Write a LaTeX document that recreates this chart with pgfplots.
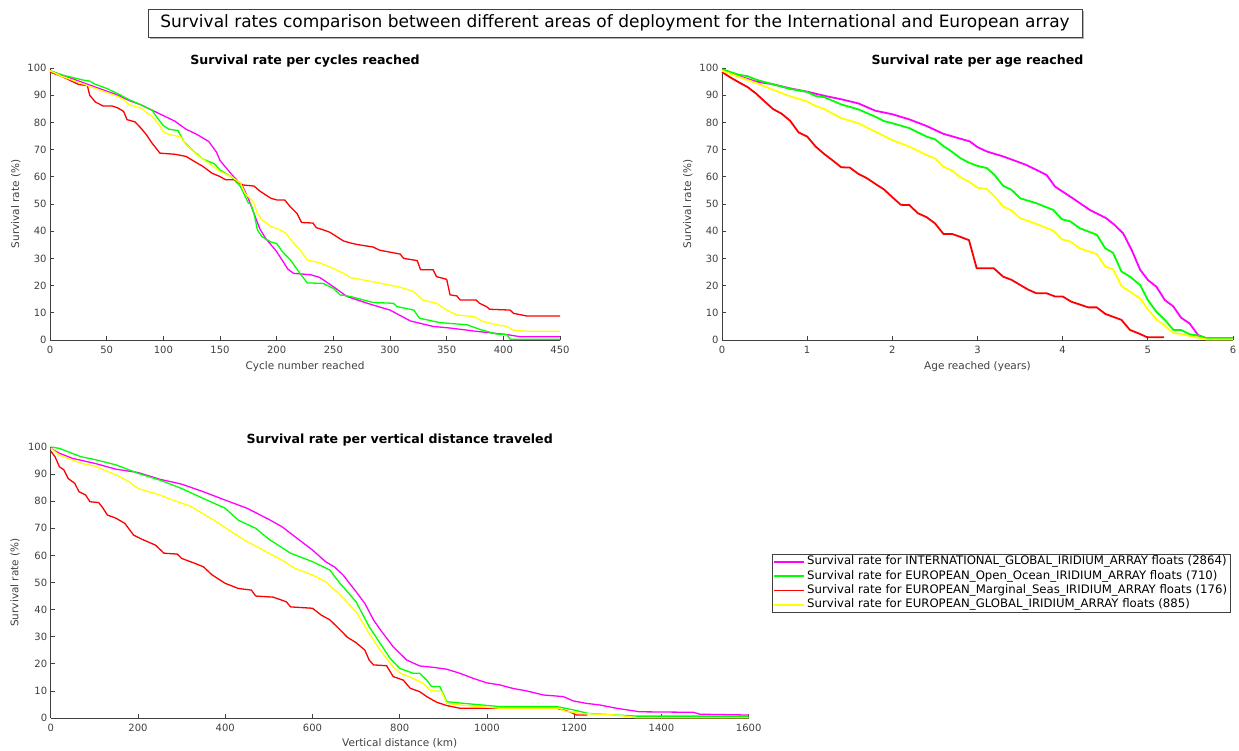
\documentclass[border=0pt]{standalone}
\usepackage{pgfplots}
\pgfplotsset{compat=1.18}
\usepackage{fontspec}
\setmainfont{DejaVu Sans}
\definecolor{cmag}{RGB}{255,0,255}
\definecolor{cgrn}{RGB}{0,255,0}
\definecolor{cred}{RGB}{255,0,0}
\definecolor{cyel}{RGB}{255,255,0}
\definecolor{axc}{RGB}{64,64,64}
\pgfplotsset{
  mstyle/.style={
    scale only axis,
    axis x line*=bottom, axis y line*=left,
    x axis line style={-,draw=axc,line width=0.9bp},
    y axis line style={-,draw=axc,line width=0.9bp},
    tick align=inside, major tick length=4bp,
    every tick/.style={draw=axc,line width=0.8bp},
    tick label style={font=\fontsize{10bp}{12bp}\selectfont, text=axc},
    /pgf/number format/assume math mode=true,
    /pgf/number format/1000 sep={},
    xticklabel style={yshift=-3bp},
    label style={font=\fontsize{10.5bp}{12bp}\selectfont, text=axc},
    title style={font=\fontsize{12.6bp}{14bp}\selectfont\bfseries, yshift=-9bp},
    ymin=0, ymax=100, ytick={0,10,...,100},
    clip=false,
    scaled ticks=false,
  }
}
\begin{document}
\begin{tikzpicture}
\path[use as bounding box] (0bp,0bp) rectangle (1239bp,-751bp);
% main title box
\fill[gray!60] (150bp,-11bp) rectangle (1084bp,-39bp);
\draw[fill=white,draw=axc,line width=0.6bp] (148bp,-9bp) rectangle (1082bp,-37bp);
\node[font=\fontsize{17bp}{20bp}\selectfont] at (615bp,-23bp) {Survival rates comparison between different areas of deployment for the International and European array};

% ---------- plot 1
\begin{axis}[mstyle, at={(50bp,-340bp)}, anchor=south west, width=510bp, height=272bp,
  xmin=0, xmax=450, xtick={0,50,...,450},
  title={Survival rate per cycles reached},
  xlabel={Cycle number reached}, ylabel={Survival rate (\%)},
  xlabel style={at={(axis description cs:0.5,-0.096)}, anchor=center},
  ylabel style={at={(axis description cs:-0.067,0.5)}, anchor=center},
  every axis plot/.append style={line width=1.3bp}]
\addplot[cmag] coordinates {(0,99)(10,97.5)(20,96)(30,94.5)(40,93)(50,91.5)(60,90)(70,88)(80,86.5)(90,84.5)(100,82.5)(110,80.5)(120,77.5)(130,75.5)(140,73)(147,69)(150,66)(160,61)(170,56.5)(175,52)(180,46.5)(185,41)(190,37.5)(200,32.5)(210,26)(215,24.5)(230,24)(238,23)(250,19.6)(262,16)(280,13.5)(300,11)(318,7)(338,5)(353,4.4)(376,3.2)(403,2)(415,1.2)(450,1.2)};
\addplot[cgrn] coordinates {(0,99)(10,97.5)(20,96.5)(30,95.5)(35,95.2)(40,94)(50,92.5)(60,90.5)(70,88.3)(80,86.5)(90,84.5)(95,81.5)(100,78.8)(105,77.5)(113,77)(118,73)(125,70)(135,66.5)(145,64.8)(150,62.5)(160,60)(168,56.5)(172,53)(175,50.3)(177,50.2)(180,46.5)(183,40.5)(187,38)(195,36)(200,35.5)(205,32.5)(212,29.5)(220,24.8)(227,21)(241,20.8)(250,19)(256,16.6)(265,16)(285,13.8)(303,13.5)(306,12.3)(321,11)(326,8)(344,6.4)(368,5.6)(380,3.8)(394,2.2)(403,2)(406,0.3)(450,0.3)};
\addplot[cred] coordinates {(0,98.5)(10,97)(20,95)(25,94)(33,93.5)(35,90)(40,87.5)(47,86)(55,86)(60,85.3)(65,84)(68,81)(75,80.2)(80,78)(85,75.5)(90,72.4)(97,68.7)(110,68.3)(120,67.5)(130,65)(135,63.8)(143,61.3)(150,60.1)(155,58.9)(163,58.9)(170,57)(180,56.6)(185,54.8)(190,53.4)(195,52.1)(200,51.5)(207,51.5)(212,49)(218,46.5)(222,43.2)(232,43)(235,41.3)(241,40.5)(247,39.6)(259,36.4)(265,35.7)(271,35.1)(285,34.2)(291,33)(309,31.6)(312,30)(324,29.2)(327,25.8)(338,25.8)(341,23.3)(350,22.3)(353,16.6)(359,16.2)(362,14.7)(376,14.7)(379,13.5)(385,12.3)(388,11.3)(406,11)(409,9.8)(421,8.8)(450,8.8)};
\addplot[cyel] coordinates {(0,99)(10,97)(20,95.5)(30,94)(40,92.5)(50,91)(60,89.5)(65,88.3)(70,86.5)(80,85.3)(90,82.2)(95,79.8)(100,76.7)(105,75.5)(115,74.8)(120,71.8)(130,68)(140,65)(150,62)(160,60)(168,57.7)(172,54)(177,51.8)(180,50.3)(183,46.6)(187,44.2)(195,41.7)(202,40.7)(208,39.3)(215,35.6)(221,33)(227,29.4)(238,28.4)(250,26.3)(259,24.5)(265,23)(280,21.8)(300,20.2)(309,19.4)(321,17.8)(329,14.7)(341,13.5)(350,11)(359,9.2)(374,8.6)(382,6.8)(394,5.6)(403,5)(409,3.6)(421,3.2)(450,3.2)};
\end{axis}

% ---------- plot 2
\begin{axis}[mstyle, at={(722bp,-340bp)}, anchor=south west, width=511bp, height=272bp,
  xmin=0, xmax=6, xtick={0,1,...,6},
  title={Survival rate per age reached},
  xlabel={Age reached (years)}, ylabel={Survival rate (\%)},
  xlabel style={at={(axis description cs:0.5,-0.096)}, anchor=center},
  ylabel style={at={(axis description cs:-0.067,0.5)}, anchor=center},
  every axis plot/.append style={line width=1.8bp}]
\addplot[cmag] coordinates {(0,99.5)(0.2,97)(0.4,95)(0.6,94)(0.8,92.5)(1.0,91.3)(1.2,89.8)(1.4,88.5)(1.6,87)(1.8,84.3)(2.0,83)(2.2,81.1)(2.4,78.7)(2.6,75.8)(2.8,74)(2.91,73)(3.0,70.9)(3.11,69.3)(3.3,67.5)(3.57,64.4)(3.81,60.7)(3.91,56.4)(4.09,52.7)(4.32,47.8)(4.51,44.8)(4.61,42.3)(4.71,39.2)(4.81,33.1)(4.91,25.8)(5.0,22.1)(5.1,19.6)(5.2,14.7)(5.3,12.3)(5.39,8.2)(5.49,6.1)(5.59,1.8)(5.69,0.6)(5.8,0.5)};
\addplot[cgrn] coordinates {(0,99.5)(0.2,97.5)(0.3,97)(0.4,95.7)(0.6,94)(0.8,92.3)(1.0,91.2)(1.1,89.7)(1.2,89.3)(1.4,86.6)(1.6,84.8)(1.8,82.1)(1.9,80.5)(2.0,79.7)(2.2,77.9)(2.4,74.8)(2.5,73.8)(2.6,71.3)(2.7,69.2)(2.8,66.8)(2.9,65.2)(3.0,64)(3.11,63.2)(3.2,60.7)(3.3,56.7)(3.4,55.2)(3.5,52.1)(3.69,50.3)(3.89,47.8)(3.99,44.4)(4.09,43.6)(4.2,41.1)(4.3,39.9)(4.4,38.7)(4.5,33.7)(4.59,32.1)(4.69,25.2)(4.79,23.3)(4.91,20.2)(5.0,14.7)(5.1,10.4)(5.2,7.4)(5.3,3.7)(5.39,3.7)(5.49,2.1)(5.59,1.6)(5.69,0.7)(6,0.7)};
\addplot[cred] coordinates {(0,98.5)(0.1,96.5)(0.2,94.7)(0.3,93)(0.4,90.6)(0.5,87.7)(0.6,84.9)(0.7,83.2)(0.8,80.6)(0.9,76.3)(1.0,74.8)(1.1,71.1)(1.2,68.4)(1.3,66)(1.4,63.5)(1.5,63.4)(1.6,61.1)(1.7,59.5)(1.8,57.4)(1.9,55.4)(2.0,52.5)(2.1,49.7)(2.2,49.6)(2.3,46.6)(2.4,45.2)(2.5,42.9)(2.6,39)(2.7,39)(2.8,37.9)(2.9,36.7)(2.99,26.4)(3.19,26.4)(3.3,23.3)(3.4,22.1)(3.59,18.6)(3.69,17.2)(3.81,17.2)(3.91,16)(4.0,16)(4.1,14.1)(4.3,12)(4.4,12)(4.5,9.6)(4.69,7.4)(4.79,3.7)(4.91,2.2)(4.99,1)(5.19,1)};
\addplot[cyel] coordinates {(0,99)(0.2,96.7)(0.4,94.5)(0.6,92)(0.8,89.6)(1.0,87.7)(1.1,86)(1.2,84.9)(1.4,81.6)(1.6,79.7)(1.8,76.6)(2.0,73.5)(2.2,71.1)(2.4,68)(2.5,66.8)(2.6,63.7)(2.7,62.3)(2.8,59.8)(2.9,58.2)(3.0,56)(3.11,55.5)(3.2,52.8)(3.3,49.1)(3.4,47.6)(3.5,44.8)(3.69,42.7)(3.89,40.2)(3.99,37)(4.09,36.2)(4.2,33.7)(4.4,31.6)(4.5,27)(4.59,26)(4.69,19.9)(4.79,17.8)(4.91,15.3)(5.0,11.3)(5.1,7.6)(5.2,5.2)(5.3,2.5)(5.39,2.2)(5.49,1.5)(5.69,0.2)(6,0.2)};
\end{axis}

% ---------- plot 3
\begin{axis}[mstyle, at={(50.7bp,-718bp)}, anchor=south west, width=698bp, height=271bp,
  xmin=0, xmax=1600, xtick={0,200,...,1600},
  title={Survival rate per vertical distance traveled},
  xlabel={Vertical distance (km)}, ylabel={Survival rate (\%)},
  xlabel style={at={(axis description cs:0.5,-0.093)}, anchor=center},
  ylabel style={at={(axis description cs:-0.051,0.5)}, anchor=center},
  every axis plot/.append style={line width=1.3bp},
  legend style={at={(rel axis cs:1.033,0.605)}, anchor=north west,
    font=\fontsize{11.7bp}{13bp}\selectfont,
    inner xsep=1bp, inner ysep=1bp, row sep=1.0bp,
    nodes={inner ysep=1bp, inner xsep=2.5bp, text height=8.7bp, text depth=2.6bp}},
  every axis legend/.append style={draw=axc},
  legend cell align=left,
  legend image code/.code={\draw[#1,draw=.,line width=1.8bp] (0bp,0bp) -- (30bp,0bp);}]
\addplot[cmag] coordinates {(0,99.5)(20,97.7)(50,95.8)(100,94)(150,91.8)(200,90.6)(250,88.1)(300,86.3)(350,83.5)(400,80.4)(450,77.4)(500,73.3)(530,70.6)(560,66.9)(600,62)(630,57.7)(650,55.8)(670,52.8)(700,46.6)(720,42.3)(740,36.2)(755,32.7)(785,26.3)(816,21.4)(846,19.2)(877,18.7)(908,18)(938,16.5)(969,14.6)(999,13)(1030,12.2)(1060,10.9)(1091,10)(1129,8.5)(1175,7.9)(1198,6.3)(1228,5.4)(1259,4.8)(1297,3.6)(1350,2.3)(1473,2.1)(1488,1.4)(1600,1.1)};
\addlegendentry{Survival rate for INTERNATIONAL\_GLOBAL\_IRIDIUM\_ARRAY floats (2864)}
\addplot[cgrn] coordinates {(0,100)(20,99.5)(50,97.6)(70,96.4)(100,95.4)(150,93.4)(200,90.3)(250,87.8)(300,84.7)(350,81)(400,77.4)(430,73)(470,70)(500,66)(550,60.8)(600,57.7)(640,54.6)(660,50.3)(700,42.9)(730,33.7)(755,27.6)(778,22)(800,18.3)(831,16.5)(846,16.5)(862,14)(873,11.6)(892,11.6)(908,6)(961,5.2)(1030,4.2)(1160,4.2)(1198,3)(1232,1.7)(1343,0.7)(1600,0.7)};
\addlegendentry{Survival rate for EUROPEAN\_Open\_Ocean\_IRIDIUM\_ARRAY floats (710)}
\addplot[cred] coordinates {(0,98.5)(10,96.4)(20,92.7)(30,91.6)(40,88.4)(55,86.6)(65,83.5)(80,82.3)(90,79.8)(110,79.5)(120,77.4)(130,74.9)(150,73.7)(170,71.8)(190,67.5)(210,65.9)(240,63.8)(260,60.8)(290,60.5)(300,58.9)(330,57.1)(350,55.8)(370,52.8)(400,49.7)(430,47.8)(460,47.2)(470,45)(510,44.6)(540,42.9)(550,41)(600,40.5)(620,38)(640,36.2)(660,33.1)(680,29.8)(700,27.8)(720,25.1)(730,21.4)(740,19.6)(770,19.3)(785,15.3)(808,14)(824,11)(846,9.7)(862,7.9)(885,5.8)(908,4.6)(938,3.6)(1160,3.6)(1190,2.3)(1205,1.1)(1230,1.1)};
\addlegendentry{Survival rate for EUROPEAN\_Marginal\_Seas\_IRIDIUM\_ARRAY floats (176)}
\addplot[cyel] coordinates {(0,99.5)(20,97)(50,95.2)(70,94)(100,93)(150,89.7)(180,87.2)(200,84.7)(250,82.3)(280,80.4)(320,78.2)(350,75.3)(380,72.4)(420,68.1)(450,65.1)(480,62.6)(500,60.8)(530,58.3)(560,55.2)(600,52.8)(630,50.3)(660,46)(700,39.2)(730,31.2)(755,25.1)(785,18.9)(800,16.7)(831,14.6)(854,12.8)(869,10.3)(896,9.7)(908,5.4)(938,4.8)(1030,3.6)(1167,3.6)(1175,2.7)(1213,1.7)(1297,1.1)(1343,0.1)(1600,0.1)};
\addlegendentry{Survival rate for EUROPEAN\_GLOBAL\_IRIDIUM\_ARRAY floats (885)}
\end{axis}
\end{tikzpicture}
\end{document}
